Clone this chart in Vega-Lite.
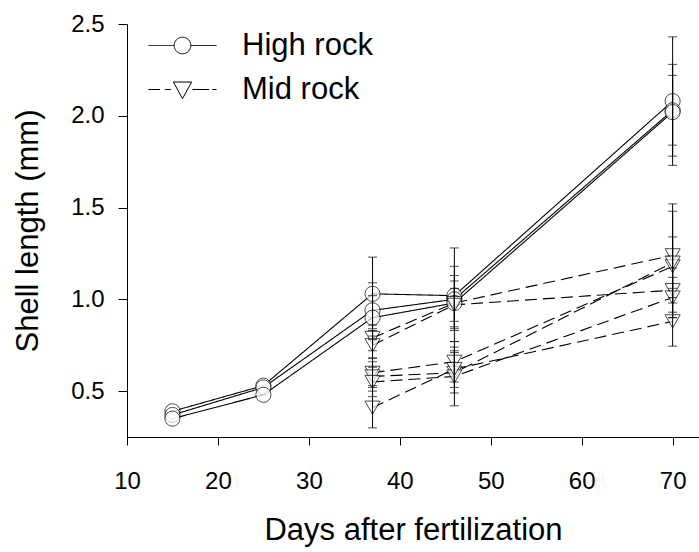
{
  "$schema": "https://vega.github.io/schema/vega-lite/v6.json",
  "width": 572,
  "height": 413,
  "autosize": {"type": "none"},
  "padding": {"left": 127, "top": 24, "right": 0, "bottom": 115},
  "background": "white",
  "config": {
    "view": {"stroke": null},
    "font": "Liberation Sans",
    "axis": {
      "grid": false,
      "domainColor": "black",
      "tickColor": "black",
      "labelColor": "black",
      "titleColor": "black",
      "labelFont": "Liberation Sans",
      "titleFont": "Liberation Sans",
      "labelFontSize": 24,
      "titleFontSize": 31,
      "titleFontWeight": "normal",
      "labelFlush": false,
      "domainWidth": 1,
      "tickWidth": 1
    },
    "legend": {
      "title": null,
      "orient": "none",
      "padding": 0,
      "labelFontSize": 31,
      "labelFont": "Liberation Sans",
      "labelColor": "black",
      "labelOffset": 44,
      "symbolSize": 276,
      "symbolStrokeColor": "black",
      "symbolStrokeWidth": 1,
      "symbolOpacity": 1
    }
  },
  "data": {
    "values": [
      {"grp": "High rock", "rep": "H1", "day": 15, "len": 0.39, "lo": null, "hi": null},
      {"grp": "High rock", "rep": "H1", "day": 25, "len": 0.53, "lo": null, "hi": null},
      {"grp": "High rock", "rep": "H1", "day": 37, "len": 1.03, "lo": 0.84, "hi": 1.23},
      {"grp": "High rock", "rep": "H1", "day": 46, "len": 1.02, "lo": 0.77, "hi": 1.28},
      {"grp": "High rock", "rep": "H1", "day": 70, "len": 2.08, "lo": 1.73, "hi": 2.43},
      {"grp": "High rock", "rep": "H2", "day": 15, "len": 0.37, "lo": null, "hi": null},
      {"grp": "High rock", "rep": "H2", "day": 25, "len": 0.52, "lo": null, "hi": null},
      {"grp": "High rock", "rep": "H2", "day": 37, "len": 0.94, "lo": 0.8, "hi": 1.09},
      {"grp": "High rock", "rep": "H2", "day": 46, "len": 1.0, "lo": 0.83, "hi": 1.18},
      {"grp": "High rock", "rep": "H2", "day": 70, "len": 2.03, "lo": 1.78, "hi": 2.28},
      {"grp": "High rock", "rep": "H3", "day": 15, "len": 0.35, "lo": null, "hi": null},
      {"grp": "High rock", "rep": "H3", "day": 25, "len": 0.48, "lo": null, "hi": null},
      {"grp": "High rock", "rep": "H3", "day": 37, "len": 0.9, "lo": 0.78, "hi": 1.02},
      {"grp": "High rock", "rep": "H3", "day": 46, "len": 0.98, "lo": 0.84, "hi": 1.13},
      {"grp": "High rock", "rep": "H3", "day": 70, "len": 2.02, "lo": 1.84, "hi": 2.22},
      {"grp": "Mid rock", "rep": "MA", "day": 37, "len": 0.79, "lo": 0.72, "hi": 0.86},
      {"grp": "Mid rock", "rep": "MA", "day": 46, "len": 0.98, "lo": 0.85, "hi": 1.1},
      {"grp": "Mid rock", "rep": "MA", "day": 70, "len": 1.24, "lo": 0.98, "hi": 1.52},
      {"grp": "Mid rock", "rep": "MB", "day": 37, "len": 0.75, "lo": 0.68, "hi": 0.83},
      {"grp": "Mid rock", "rep": "MB", "day": 46, "len": 0.97, "lo": 0.88, "hi": 1.06},
      {"grp": "Mid rock", "rep": "MB", "day": 70, "len": 1.05, "lo": 0.93, "hi": 1.17},
      {"grp": "Mid rock", "rep": "MC", "day": 37, "len": 0.6, "lo": 0.53, "hi": 0.68},
      {"grp": "Mid rock", "rep": "MC", "day": 46, "len": 0.66, "lo": 0.55, "hi": 0.77},
      {"grp": "Mid rock", "rep": "MC", "day": 70, "len": 1.18, "lo": 0.9, "hi": 1.48},
      {"grp": "Mid rock", "rep": "MD", "day": 37, "len": 0.58, "lo": 0.5, "hi": 0.66},
      {"grp": "Mid rock", "rep": "MD", "day": 46, "len": 0.6, "lo": 0.49, "hi": 0.71},
      {"grp": "Mid rock", "rep": "MD", "day": 70, "len": 1.2, "lo": 1.06, "hi": 1.34},
      {"grp": "Mid rock", "rep": "ME", "day": 37, "len": 0.55, "lo": 0.47, "hi": 0.63},
      {"grp": "Mid rock", "rep": "ME", "day": 46, "len": 0.58, "lo": 0.42, "hi": 0.74},
      {"grp": "Mid rock", "rep": "ME", "day": 70, "len": 1.01, "lo": 0.9, "hi": 1.12},
      {"grp": "Mid rock", "rep": "MF", "day": 37, "len": 0.41, "lo": 0.3, "hi": 0.52},
      {"grp": "Mid rock", "rep": "MF", "day": 46, "len": 0.62, "lo": 0.52, "hi": 0.72},
      {"grp": "Mid rock", "rep": "MF", "day": 70, "len": 0.88, "lo": 0.745, "hi": 1.01}
    ]
  },
  "encoding": {
    "x": {
      "field": "day",
      "type": "quantitative",
      "scale": {"domain": [10, 72.9], "nice": false, "zero": false},
      "axis": {
        "title": "Days after fertilization",
        "values": [10, 20, 30, 40, 50, 60, 70],
        "format": "d",
        "tickSize": 8,
        "labelPadding": 24,
        "titlePadding": 22
      }
    },
    "y": {
      "field": "len",
      "type": "quantitative",
      "scale": {"domain": [0.25, 2.5], "nice": false, "zero": false},
      "axis": {
        "title": "Shell length (mm)",
        "values": [0.5, 1, 1.5, 2, 2.5],
        "format": ".1f",
        "tickSize": 9,
        "labelPadding": 14,
        "titlePadding": 26
      }
    }
  },
  "layer": [
    {
      "mark": {"type": "line", "strokeWidth": 1.1},
      "encoding": {
        "detail": {"field": "rep"},
        "strokeDash": {
          "field": "grp",
          "type": "nominal",
          "scale": {"range": [[1, 0], [12, 6]]},
          "legend": {
            "values": ["High rock"],
            "legendX": 40,
            "legendY": 6,
            "encode": {
              "symbols": {
                "update": {
                  "shape": {"value": "M-4.1,0L-1,0M1,0A1,1,0,1,1,-1,0A1,1,0,1,1,1,0M1,0L4.1,0"},
                  "fill": {"value": "white"},
                  "stroke": {"value": "black"},
                  "strokeWidth": {"value": 1}
                }
              }
            }
          }
        },
        "color": {
          "field": "grp",
          "type": "nominal",
          "scale": {"domain": ["High rock", "Mid rock"], "range": ["black", "black"]},
          "legend": {
            "values": ["Mid rock"],
            "legendX": 40,
            "legendY": 50,
            "encode": {
              "symbols": {
                "update": {
                  "shape": {"value": "M-4.1,0L-2.7,0M-2.1,0L-1.4,0M-1.1,-0.9L1.1,-0.9L0,1.1ZM1.2,0L3.2,0M3.6,0L4.1,0"},
                  "fill": {"value": "white"},
                  "stroke": {"value": "black"},
                  "strokeWidth": {"value": 1}
                }
              }
            }
          }
        }
      }
    },
    {
      "mark": {"type": "point", "filled": true, "fill": "white", "stroke": "black", "strokeWidth": 1, "size": 230},
      "encoding": {
        "shape": {
          "field": "grp",
          "type": "nominal",
          "scale": {"domain": ["Mid rock", "High rock"], "range": ["triangle-down", "circle"]},
          "legend": null
        }
      }
    },
    {
      "transform": [{"filter": "datum.lo != null"}],
      "mark": {"type": "errorbar", "ticks": {"size": 9, "color": "black"}, "color": "black", "thickness": 1},
      "encoding": {
        "y": {
          "field": "lo",
          "type": "quantitative",
          "axis": {
            "title": "Shell length (mm)",
            "values": [0.5, 1, 1.5, 2, 2.5],
            "format": ".1f",
            "tickSize": 9,
            "labelPadding": 14,
            "titlePadding": 26
          }
        },
        "y2": {"field": "hi"}
      }
    }
  ]
}
